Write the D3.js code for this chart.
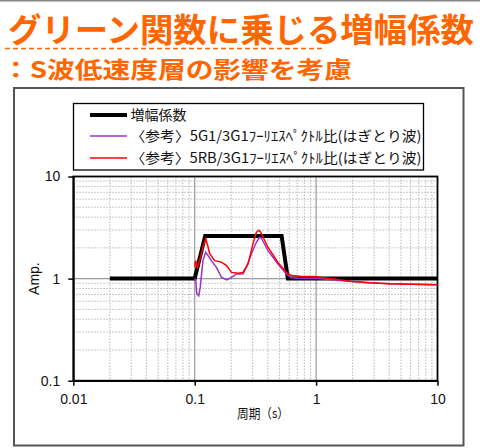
<!DOCTYPE html>
<html><head><meta charset="utf-8">
<script src="https://cdn.jsdelivr.net/npm/d3@7"></script>
<style>body{margin:0;background:#fff;}svg{display:block;}</style>
</head><body>
<script>
// ---- data ----
const title = "グリーン関数に乗じる増幅係数";
const subtitle = "：S波低速度層の影響を考慮";
const legendLabels = ["増幅係数", "〈参考〉5G1/3G1ﾌｰﾘｴｽﾍﾟｸﾄﾙ比(はぎとり波)", "〈参考〉5RB/3G1ﾌｰﾘｴｽﾍﾟｸﾄﾙ比(はぎとり波)"];
const xTicks = [0.01, 0.1, 1, 10];
const xTickLabels = ["0.01", "0.1", "1", "10"];
const yTicks = [0.1, 1, 10];
const yTickLabels = ["0.1", "1", "10"];
const xLabel = "周期（s）";
const yLabel = "Amp.";

const ampPeriod = [0.02, 0.1, 0.122, 0.52, 0.585, 10];
const ampValue  = [1, 1, 2.62, 2.62, 1, 1];

const g1Period = [0.100,0.102,0.104,0.108,0.111,0.114,0.117,0.123,0.129,0.137,0.151,0.166,0.183,0.201,0.221,0.250,0.267,0.293,0.322,0.343,0.354,0.401,0.485,0.569,0.625,0.755,0.97,1.29,1.89,2.75,4.02,6.22,10];
const g1Value  = [1.00,0.96,0.71,0.68,0.82,1.12,1.50,1.81,1.68,1.50,1.29,1.03,0.97,1.03,1.11,1.11,1.29,1.75,2.27,2.54,2.50,1.88,1.39,1.11,1.02,1.00,1.01,0.98,0.94,0.91,0.89,0.88,0.87];

const rbPeriod = [0.100,0.102,0.105,0.108,0.113,0.117,0.123,0.128,0.133,0.146,0.166,0.183,0.201,0.228,0.250,0.275,0.302,0.322,0.337,0.350,0.401,0.485,0.569,0.625,0.708,0.755,0.97,1.29,1.89,2.75,4.02,6.22,10];
const rbValue  = [1.30,1.50,1.28,1.40,1.70,2.05,2.45,2.10,1.75,1.50,1.45,1.34,1.15,1.13,1.15,1.39,2.19,2.84,2.98,2.85,2.03,1.44,1.15,1.07,1.06,1.05,1.05,1.00,0.94,0.91,0.89,0.88,0.87];

const W = 480, H = 448;
const svg = d3.select("body").append("svg").attr("width", W).attr("height", H);
const jp = "'Noto Sans CJK JP', sans-serif";
const lat = "'Liberation Sans', Arial, sans-serif";

// top slide line
svg.append("line").attr("x1",0).attr("x2",W).attr("y1",0.75).attr("y2",0.75).attr("stroke","#888").attr("stroke-width",1.5);

// titles
svg.append("text").attr("x",8).attr("y",42).attr("font-family",jp).attr("font-weight",700)
  .attr("font-size",33).attr("fill","#ff6600").attr("textLength",466).attr("lengthAdjust","spacingAndGlyphs").text(title);
svg.append("line").attr("x1",5).attr("x2",325).attr("y1",48.5).attr("y2",48.5)
  .attr("stroke","#ff6600").attr("stroke-width",1.5).attr("stroke-dasharray","5,3");
svg.append("text").attr("x",2).attr("y",78).attr("font-family",jp).attr("font-weight",700)
  .attr("font-size",23).attr("fill","#ff6600").attr("textLength",350).attr("lengthAdjust","spacingAndGlyphs").text(subtitle);

// outer chart frame
svg.append("rect").attr("x",14).attr("y",88).attr("width",449.5).attr("height",357.5)
  .attr("fill","none").attr("stroke","#555").attr("stroke-width",2);

const x = d3.scaleLog().domain([0.01,10]).range([73.3,437.5]);
const y = d3.scaleLog().domain([0.1,10]).range([380.7,176.5]);

// grid
const minorX = [], minorY = [];
[0.01,0.1,1].forEach(d => { for (let k=2;k<=9;k++) minorX.push(d*k); });
[0.1,1].forEach(d => { for (let k=2;k<=9;k++) minorY.push(d*k); });
const grid = svg.append("g");
grid.selectAll(".mx").data(minorX).join("line")
  .attr("x1",d=>x(d)).attr("x2",d=>x(d)).attr("y1",y(10)).attr("y2",y(0.1))
  .attr("stroke","#b8b8b8").attr("stroke-width",1).attr("stroke-dasharray","1.5,1.5");
grid.selectAll(".my").data(minorY).join("line")
  .attr("x1",x(0.01)).attr("x2",x(10)).attr("y1",d=>y(d)).attr("y2",d=>y(d))
  .attr("stroke","#b8b8b8").attr("stroke-width",1).attr("stroke-dasharray","1.5,1.5");
grid.selectAll(".Mx").data([0.1,1]).join("line")
  .attr("x1",d=>x(d)).attr("x2",d=>x(d)).attr("y1",y(10)).attr("y2",y(0.1))
  .attr("stroke","#999").attr("stroke-width",1.2);
grid.selectAll(".My").data([1]).join("line")
  .attr("x1",x(0.01)).attr("x2",x(10)).attr("y1",d=>y(d)).attr("y2",d=>y(d))
  .attr("stroke","#999").attr("stroke-width",1.2);

// plot border
svg.append("rect").attr("x",x(0.01)).attr("y",y(10)).attr("width",x(10)-x(0.01)).attr("height",y(0.1)-y(10))
  .attr("fill","none").attr("stroke","#000").attr("stroke-width",1.8);

// axes
const xAxis = svg.append("g").attr("transform",`translate(0,${y(0.1)})`)
  .call(d3.axisBottom(x).tickValues(xTicks).tickFormat((d,i)=>xTickLabels[i]).tickSize(5).tickSizeOuter(0).tickPadding(8));
xAxis.select(".domain").attr("stroke-width",1.8);
xAxis.selectAll("line").attr("stroke-width",1.5);
xAxis.selectAll("text").attr("font-family",lat).attr("font-size",14).attr("fill","#111");
const yAxis = svg.append("g").attr("transform",`translate(${x(0.01)},0)`)
  .call(d3.axisLeft(y).tickValues(yTicks).tickFormat((d,i)=>yTickLabels[i]).tickSize(5).tickSizeOuter(0).tickPadding(8));
yAxis.select(".domain").attr("stroke-width",1.8);
yAxis.selectAll("line").attr("stroke-width",1.5);
yAxis.selectAll("text").attr("font-family",lat).attr("font-size",14).attr("fill","#111");

svg.append("text").attr("x",237).attr("y",418).attr("font-family",jp)
  .attr("font-size",13).attr("fill","#111").attr("textLength",52).attr("lengthAdjust","spacingAndGlyphs").text(xLabel);
svg.append("text").attr("transform",`translate(39,${y(1)}) rotate(-90)`).attr("text-anchor","middle")
  .attr("font-family",lat).attr("font-size",14).attr("fill","#111").text(yLabel);

// lines
const line = d3.line().x(d=>x(d[0])).y(d=>y(d[1]));
const clip = svg.append("g");
clip.append("path").datum(ampPeriod.map((p,i)=>[p,ampValue[i]])).attr("d",line)
  .attr("fill","none").attr("stroke","#000").attr("stroke-width",4).attr("stroke-linejoin","miter");
clip.append("path").datum(g1Period.map((p,i)=>[p,g1Value[i]])).attr("d",line)
  .attr("fill","none").attr("stroke","#9933cc").attr("stroke-width",1.5);
clip.append("path").datum(rbPeriod.map((p,i)=>[p,rbValue[i]])).attr("d",line)
  .attr("fill","none").attr("stroke","#ff0000").attr("stroke-width",1.5);

// legend
const lg = svg.append("g");
lg.append("rect").attr("x",73.5).attr("y",103.5).attr("width",350).attr("height",66.5)
  .attr("fill","#fff").attr("stroke","#000").attr("stroke-width",1.3);
const lgColors = ["#000","#9933cc","#ff0000"], lgW = [4,1.5,1.5], lgY = [115,136,158];
const lgLen = [null, 291, 291];
legendLabels.forEach((t,i)=>{
  lg.append("line").attr("x1",90).attr("x2",127).attr("y1",lgY[i]).attr("y2",lgY[i])
    .attr("stroke",lgColors[i]).attr("stroke-width",lgW[i]);
  const tx = lg.append("text").attr("x",130.5).attr("y",lgY[i]+5).attr("font-family",jp)
    .attr("font-size",14).attr("fill","#111").text(t);
  if (lgLen[i]) tx.attr("textLength",lgLen[i]).attr("lengthAdjust","spacingAndGlyphs");
});
</script>
</body></html>
